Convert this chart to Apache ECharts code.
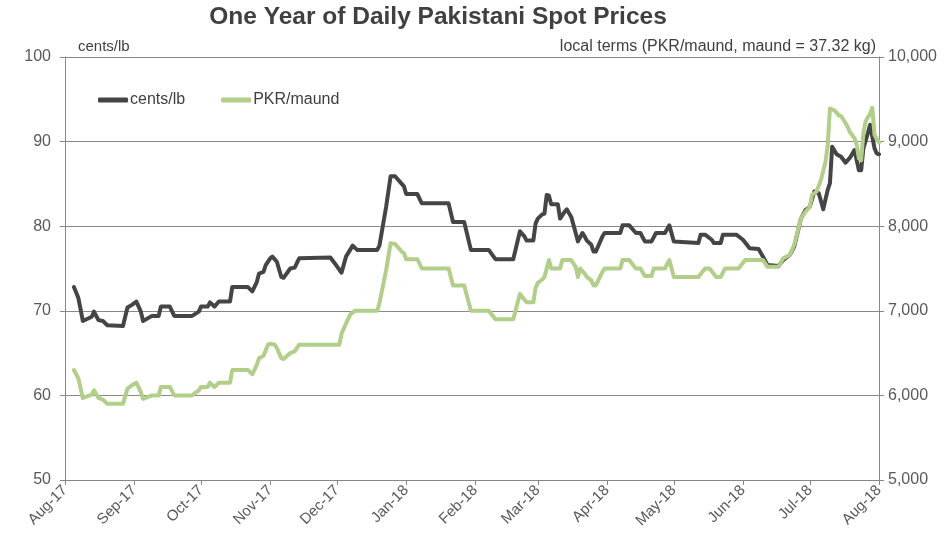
<!DOCTYPE html>
<html>
<head>
<meta charset="utf-8">
<script src="https://cdn.jsdelivr.net/npm/echarts@6/dist/echarts.min.js"></script>
<style>html,body{margin:0;padding:0;background:#fff}#c{width:950px;height:547px}</style>
</head>
<body>
<div id="c"></div>
<script>
// ---- data ----
const startDate = '2017-08-01';
const endDate = '2018-08-01';
const monthNames = ['Jan','Feb','Mar','Apr','May','Jun','Jul','Aug','Sep','Oct','Nov','Dec'];
const leftTicks = [50, 60, 70, 80, 90, 100];
const rightTicks = [5000, 6000, 7000, 8000, 9000, 10000];

// cents/lb
const centsDates = ['2017-08-05','2017-08-07','2017-08-09','2017-08-13','2017-08-14','2017-08-16','2017-08-18','2017-08-20','2017-08-27','2017-08-29','2017-08-31','2017-09-02','2017-09-04','2017-09-05','2017-09-09','2017-09-12','2017-09-13','2017-09-17','2017-09-19','2017-09-27','2017-09-30','2017-10-01','2017-10-04','2017-10-05','2017-10-07','2017-10-09','2017-10-14','2017-10-15','2017-10-22','2017-10-24','2017-10-26','2017-10-27','2017-10-29','2017-10-30','2017-11-01','2017-11-02','2017-11-04','2017-11-06','2017-11-07','2017-11-10','2017-11-12','2017-11-14','2017-11-28','2017-11-30','2017-12-03','2017-12-05','2017-12-08','2017-12-10','2017-12-19','2017-12-20','2017-12-23','2017-12-25','2017-12-27','2017-12-30','2017-12-31','2018-01-01','2018-01-06','2018-01-08','2018-01-20','2018-01-22','2018-01-27','2018-01-30','2018-02-07','2018-02-10','2018-02-18','2018-02-21','2018-02-23','2018-02-24','2018-02-27','2018-02-28','2018-03-01','2018-03-03','2018-03-04','2018-03-05','2018-03-06','2018-03-07','2018-03-10','2018-03-11','2018-03-13','2018-03-14','2018-03-16','2018-03-18','2018-03-19','2018-03-21','2018-03-22','2018-03-23','2018-03-25','2018-03-26','2018-03-27','2018-03-30','2018-03-31','2018-04-07','2018-04-08','2018-04-11','2018-04-14','2018-04-16','2018-04-18','2018-04-21','2018-04-23','2018-04-27','2018-04-29','2018-05-01','2018-05-12','2018-05-13','2018-05-15','2018-05-18','2018-05-19','2018-05-22','2018-05-23','2018-05-29','2018-06-01','2018-06-04','2018-06-08','2018-06-10','2018-06-12','2018-06-17','2018-06-19','2018-06-22','2018-06-24','2018-06-27','2018-06-29','2018-07-01','2018-07-03','2018-07-05','2018-07-07','2018-07-09','2018-07-10','2018-07-11','2018-07-13','2018-07-15','2018-07-17','2018-07-19','2018-07-21','2018-07-23','2018-07-24','2018-07-25','2018-07-27','2018-07-28','2018-07-30','2018-07-31','2018-08-01'];
const centsValues = [72.8,71.5,68.8,69.3,69.9,68.9,68.8,68.3,68.2,70.4,70.7,71.1,69.9,68.8,69.4,69.4,70.5,70.5,69.4,69.4,69.9,70.5,70.5,71.0,70.5,71.1,71.1,72.8,72.8,72.3,73.4,74.4,74.6,75.4,76.2,76.4,75.8,74.0,73.9,75.0,75.1,76.2,76.3,75.6,74.5,76.4,77.7,77.2,77.2,77.7,82.3,85.9,85.9,85.0,84.7,83.8,83.8,82.7,82.7,80.5,80.5,77.2,77.2,76.1,76.1,79.4,78.8,78.3,78.3,80.3,80.9,81.4,81.5,83.7,83.6,82.6,82.6,80.9,81.7,82.0,81.1,79.2,78.2,79.2,78.8,78.3,77.8,77.0,77.0,78.8,79.2,79.2,80.1,80.1,79.2,79.2,78.2,78.2,79.2,79.2,80.1,78.2,78.0,79.0,79.0,78.4,78.0,78.0,79.0,79.0,78.4,77.4,77.3,76.4,75.4,75.3,76.0,76.6,77.6,80.9,81.9,82.3,84.1,83.9,82.0,84.3,85.1,89.4,88.5,88.2,87.5,88.1,89.0,86.6,86.6,89.2,91.0,92.0,89.2,88.6,88.5];

// PKR/maund
const pkrDates = ['2017-08-05','2017-08-07','2017-08-09','2017-08-13','2017-08-14','2017-08-16','2017-08-18','2017-08-20','2017-08-27','2017-08-29','2017-08-31','2017-09-02','2017-09-04','2017-09-05','2017-09-09','2017-09-12','2017-09-13','2017-09-17','2017-09-19','2017-09-27','2017-09-30','2017-10-01','2017-10-04','2017-10-05','2017-10-07','2017-10-09','2017-10-14','2017-10-15','2017-10-22','2017-10-24','2017-10-26','2017-10-27','2017-10-29','2017-10-31','2017-11-01','2017-11-03','2017-11-04','2017-11-06','2017-11-07','2017-11-10','2017-11-12','2017-11-14','2017-12-02','2017-12-03','2017-12-05','2017-12-07','2017-12-09','2017-12-19','2017-12-20','2017-12-23','2017-12-25','2017-12-27','2017-12-30','2017-12-31','2018-01-01','2018-01-06','2018-01-08','2018-01-20','2018-01-22','2018-01-27','2018-01-30','2018-02-07','2018-02-10','2018-02-18','2018-02-21','2018-02-24','2018-02-27','2018-02-28','2018-03-01','2018-03-03','2018-03-04','2018-03-05','2018-03-06','2018-03-07','2018-03-11','2018-03-12','2018-03-16','2018-03-18','2018-03-19','2018-03-20','2018-03-22','2018-03-23','2018-03-25','2018-03-26','2018-03-27','2018-03-30','2018-03-31','2018-04-07','2018-04-08','2018-04-11','2018-04-14','2018-04-16','2018-04-18','2018-04-21','2018-04-22','2018-04-27','2018-04-29','2018-05-01','2018-05-12','2018-05-15','2018-05-17','2018-05-20','2018-05-22','2018-05-24','2018-05-30','2018-06-02','2018-06-10','2018-06-12','2018-06-17','2018-06-19','2018-06-22','2018-06-24','2018-06-27','2018-06-29','2018-07-01','2018-07-02','2018-07-04','2018-07-06','2018-07-08','2018-07-09','2018-07-10','2018-07-12','2018-07-14','2018-07-15','2018-07-17','2018-07-18','2018-07-19','2018-07-21','2018-07-22','2018-07-23','2018-07-24','2018-07-25','2018-07-26','2018-07-28','2018-07-29','2018-07-30','2018-07-31','2018-08-01'];
const pkrValues = [6300,6200,5970,6010,6060,5970,5950,5900,5900,6080,6120,6150,6040,5960,6000,6000,6100,6100,6000,6000,6060,6100,6100,6150,6100,6150,6150,6300,6300,6250,6360,6440,6470,6600,6610,6600,6560,6440,6430,6500,6520,6600,6600,6730,6850,6960,7000,7000,7090,7480,7800,7790,7700,7680,7610,7610,7500,7500,7300,7300,7000,7000,6900,6900,7200,7100,7100,7270,7330,7370,7400,7500,7600,7500,7500,7600,7600,7520,7400,7500,7440,7400,7360,7300,7300,7460,7500,7500,7600,7600,7500,7500,7410,7410,7500,7500,7600,7400,7400,7500,7500,7400,7400,7500,7500,7600,7600,7520,7520,7620,7660,7780,8090,8170,8230,8370,8410,8550,8760,8960,9390,9370,9310,9300,9220,9170,9110,9040,8960,8800,8780,9100,9240,9330,9400,9080,9030,8990];

// ---- build categories (one per day) ----
function pad(n){return n<10?'0'+n:''+n;}
const categories = [];
(function(){
  const s = new Date(startDate + 'T00:00:00Z'), e = new Date(endDate + 'T00:00:00Z');
  for (let t = s.getTime(); t <= e.getTime(); t += 86400000) {
    const d = new Date(t);
    categories.push(d.getUTCFullYear() + '-' + pad(d.getUTCMonth()+1) + '-' + pad(d.getUTCDate()));
  }
})();
const isMonthStart = (i, v) => String(v).slice(8) === '01';

const FONT = '"Liberation Sans", Arial, sans-serif';
const chart = echarts.init(document.getElementById('c'), null, {renderer: 'canvas'});
const textColor = '#595959';
const gridColor = '#888888';
chart.setOption({
  animation: false,
  backgroundColor: '#fff',
  textStyle: {fontFamily: FONT},
  grid: {left: 65, right: 71, top: 57, bottom: 67, containLabel: false},
  legend: {
    left: 98, top: 92, padding: 0,
    itemWidth: 30, itemHeight: 5, itemGap: 36,
    icon: 'roundRect',
    textStyle: {fontSize: 16, color: '#404040', fontFamily: FONT, padding: [0,0,0,-3]},
    data: ['cents/lb', 'PKR/maund']
  },
  graphic: [
    {type: 'text', x: 438, y: 17, style: {text: 'One Year of Daily Pakistani Spot Prices', align: 'center', verticalAlign: 'middle', font: 'bold 24.5px ' + FONT, fill: '#404040'}},
    {type: 'text', x: 78, y: 47, style: {text: 'cents/lb', align: 'left', verticalAlign: 'middle', font: '15px ' + FONT, fill: '#404040'}},
    {type: 'text', x: 876, y: 47, style: {text: 'local terms (PKR/maund, maund = 37.32 kg)', align: 'right', verticalAlign: 'middle', font: '16px ' + FONT, fill: '#404040'}}
  ],
  xAxis: {
    type: 'category',
    data: categories,
    boundaryGap: false,
    axisLine: {show: true, lineStyle: {color: gridColor, width: 1}},
    axisTick: {show: true, interval: isMonthStart, length: 5, lineStyle: {color: gridColor}},
    axisLabel: {
      interval: isMonthStart,
      rotate: 45,
      fontSize: 15,
      color: textColor,
      margin: 8,
      formatter: v => monthNames[parseInt(v.slice(5,7),10)-1] + '-' + v.slice(2,4)
    },
    splitLine: {show: false}
  },
  yAxis: [
    {
      type: 'value', min: leftTicks[0], max: leftTicks[leftTicks.length-1], interval: 10,
      position: 'left',
      axisLine: {show: true, lineStyle: {color: gridColor}},
      axisTick: {show: true, length: 5, lineStyle: {color: gridColor}},
      axisLabel: {fontSize: 16, color: textColor, margin: 14},
      splitLine: {show: true, lineStyle: {color: gridColor, width: 1}}
    },
    {
      type: 'value', min: rightTicks[0], max: rightTicks[rightTicks.length-1], interval: 1000,
      position: 'right',
      axisLine: {show: true, lineStyle: {color: gridColor}},
      axisTick: {show: true, length: 5, lineStyle: {color: gridColor}},
      axisLabel: {fontSize: 16, color: textColor, margin: 9, formatter: v => v.toLocaleString('en-US')},
      splitLine: {show: false}
    }
  ],
  series: [
    {
      name: 'cents/lb', type: 'line', yAxisIndex: 0,
      showSymbol: false, symbol: 'none',
      lineStyle: {color: '#454545', width: 4, join: 'round', cap: 'round'},
      itemStyle: {color: '#454545'},
      data: centsDates.map((d, i) => [d, centsValues[i]])
    },
    {
      name: 'PKR/maund', type: 'line', yAxisIndex: 1,
      showSymbol: false, symbol: 'none',
      lineStyle: {color: '#b1cf88', width: 4, join: 'round', cap: 'round'},
      itemStyle: {color: '#b1cf88'},
      data: pkrDates.map((d, i) => [d, pkrValues[i]])
    }
  ]
});
</script>
</body>
</html>
